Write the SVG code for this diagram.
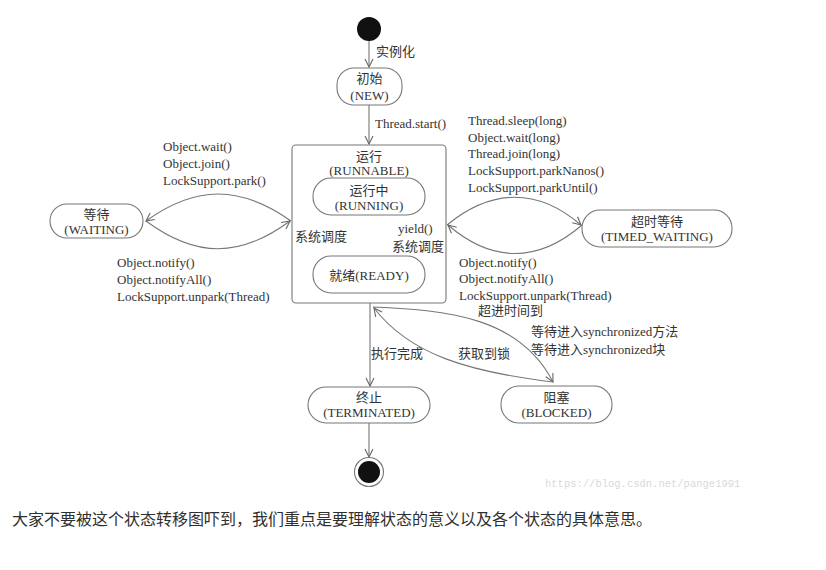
<svg xmlns="http://www.w3.org/2000/svg" width="826" height="570" viewBox="0 0 826 570">
<defs>
<marker id="arr" viewBox="0 0 10 10" refX="9" refY="5" markerWidth="10" markerHeight="10" markerUnits="userSpaceOnUse" orient="auto">
<path d="M1,1 L9,5 L1,9" fill="none" stroke="#666" stroke-width="1.1"/>
</marker>
</defs>
<style>
.box{fill:#fff;stroke:#777;stroke-width:1.1}
.t{font-family:"Liberation Serif","Noto Sans CJK SC",serif;font-size:13px;fill:#333}
.c{text-anchor:middle}
.ln{fill:none;stroke:#777;stroke-width:1.1;marker-end:url(#arr)}
</style>
<rect width="826" height="570" fill="#fff"/>

<g id="connectors">
<line class="ln" x1="369" y1="41" x2="369" y2="67"/>
<line class="ln" x1="369" y1="105" x2="369" y2="144"/>
<path class="ln" d="M291,221 C240,185 196,185 146,221"/>
<path class="ln" d="M146,221 C196,258 240,258 290,221"/>
<path class="ln" d="M447,225 C492,188 538,188 581,225"/>
<path class="ln" d="M582,225 C538,263 492,263 448,225"/>
<path class="ln" d="M372,256 C349,246 349,228 366,217"/>
<path class="ln" d="M367,216 C390,227 390,245 374,256"/>
<line class="ln" x1="370" y1="303" x2="370" y2="386"/>
<path class="ln" d="M373,307 C450,310 520,318 553,382"/>
<path class="ln" d="M553,382 C470,372 410,355 374,308"/>
<line class="ln" x1="369" y1="423" x2="369" y2="457"/>
</g>

<g id="start">
<circle cx="369" cy="29" r="12" fill="#111"/>
</g>
<text class="t" x="376" y="56">实例化</text>
<text class="t" x="375" y="128">Thread.start()</text>

<g id="new">
<rect class="box" x="337" y="68" width="65" height="37" rx="17"/>
<text class="t c" x="369.5" y="83">初始</text>
<text class="t c" x="369.5" y="100">(NEW)</text>
</g>

<g id="runnable">
<rect class="box" x="292" y="145" width="154" height="158" rx="4"/>
<text class="t c" x="369" y="161">运行</text>
<text class="t c" x="369" y="175">(RUNNABLE)</text>
</g>

<g id="running">
<rect class="box" x="313" y="178" width="112" height="37" rx="18"/>
<text class="t c" x="369" y="195">运行中</text>
<text class="t c" x="369" y="210">(RUNNING)</text>
</g>

<g id="ready">
<rect class="box" x="313" y="256" width="112" height="37" rx="18"/>
<text class="t c" x="369" y="280">就绪(READY)</text>
</g>
<text class="t" x="295" y="241">系统调度</text>
<text class="t" x="398" y="233">yield()</text>
<text class="t" x="392" y="251">系统调度</text>

<g id="waiting">
<rect class="box" x="50" y="204" width="93" height="34" rx="17"/>
<text class="t c" x="96.5" y="219">等待</text>
<text class="t c" x="96.5" y="234">(WAITING)</text>
</g>
<text class="t" x="163" y="151">Object.wait()</text>
<text class="t" x="163" y="168">Object.join()</text>
<text class="t" x="163" y="185">LockSupport.park()</text>
<text class="t" x="117" y="267">Object.notify()</text>
<text class="t" x="117" y="284">Object.notifyAll()</text>
<text class="t" x="117" y="301">LockSupport.unpark(Thread)</text>

<g id="timed_waiting">
<rect class="box" x="582" y="210" width="150" height="37" rx="18"/>
<text class="t c" x="657" y="226">超时等待</text>
<text class="t c" x="657" y="241">(TIMED_WAITING)</text>
</g>
<text class="t" x="468" y="125">Thread.sleep(long)</text>
<text class="t" x="468" y="142">Object.wait(long)</text>
<text class="t" x="468" y="158">Thread.join(long)</text>
<text class="t" x="468" y="175">LockSupport.parkNanos()</text>
<text class="t" x="468" y="192">LockSupport.parkUntil()</text>
<text class="t" x="459" y="267">Object.notify()</text>
<text class="t" x="459" y="283">Object.notifyAll()</text>
<text class="t" x="459" y="300">LockSupport.unpark(Thread)</text>
<text class="t" x="478" y="315">超进时间到</text>

<text class="t" x="371" y="358">执行完成</text>
<text class="t" x="458" y="358">获取到锁</text>
<text class="t" x="531" y="336">等待进入synchronized方法</text>
<text class="t" x="531" y="354">等待进入synchronized块</text>

<g id="terminated">
<rect class="box" x="308" y="387" width="122" height="36" rx="18"/>
<text class="t c" x="369" y="402">终止</text>
<text class="t c" x="369" y="417">(TERMINATED)</text>
</g>

<g id="blocked">
<rect class="box" x="501" y="386" width="111" height="37" rx="18"/>
<text class="t c" x="556.5" y="402">阻塞</text>
<text class="t c" x="556.5" y="417">(BLOCKED)</text>
</g>

<g id="end">
<circle cx="369" cy="472" r="14.5" fill="#fff" stroke="#777" stroke-width="1.1"/>
<circle cx="369" cy="472" r="11" fill="#111"/>
</g>

<text x="545" y="487" font-family="Liberation Mono, monospace" font-size="10.5" fill="#d9d9d9">https://blog.csdn.net/pange1991</text>
<text x="12" y="525" font-family="Noto Sans CJK SC, sans-serif" font-size="16" fill="#2f2f2f">大家不要被这个状态转移图吓到，我们重点是要理解状态的意义以及各个状态的具体意思。</text>
</svg>
